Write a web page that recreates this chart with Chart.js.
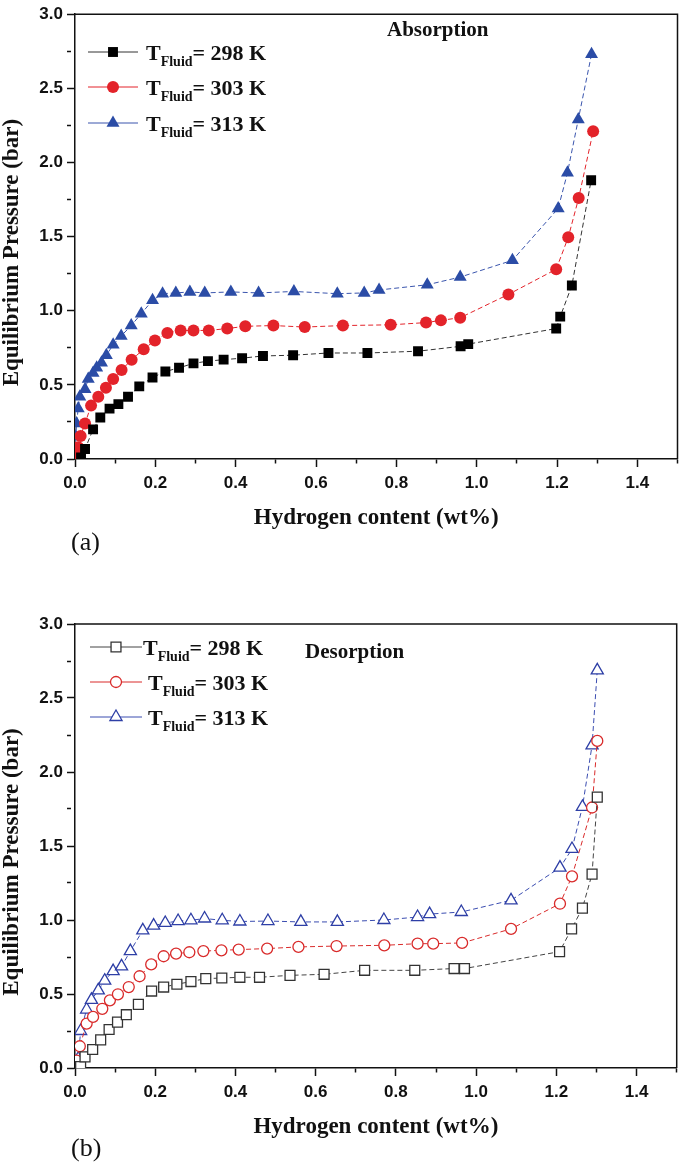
<!DOCTYPE html>
<html>
<head>
<meta charset="utf-8">
<script src="https://cdn.jsdelivr.net/npm/chart.js@4.4.1/dist/chart.umd.min.js"></script>
<style>
  html, body { margin: 0; padding: 0; background: #fff; }
  #wrap { position: relative; width: 685px; height: 1166px; overflow: hidden; }
  .box { position: absolute; left: 0; width: 685px; }
  .tag { position: absolute; font-family: "Liberation Serif", serif; font-size: 26px; color: #111; }
</style>
</head>
<body>
<div id="wrap">
  <div class="box" style="top:0;height:580px"><canvas id="chartAbs" width="685" height="580"></canvas></div>
  <div class="box" style="top:590px;height:576px"><canvas id="chartDes" width="685" height="576"></canvas></div>
  <div class="tag" style="left:71px;top:527px">(a)</div>
  <div class="tag" style="left:71px;top:1133px">(b)</div>
</div>
<script>
// --- data (x = wt%, y = bar) ---
const seriesLabels = ["298 K", "303 K", "313 K"];

const abs298X = [0.015,0.025,0.045,0.063,0.086,0.108,0.132,0.16,0.193,0.225,0.259,0.295,0.331,0.37,0.416,0.468,0.543,0.631,0.728,0.854,0.96,0.979,1.198,1.208,1.237,1.285];
const abs298Y = [0.01,0.067,0.2,0.28,0.34,0.37,0.42,0.49,0.55,0.59,0.615,0.645,0.66,0.67,0.68,0.695,0.70,0.715,0.715,0.727,0.76,0.775,0.88,0.96,1.17,1.88];

const abs303X = [0.004,0.008,0.014,0.025,0.04,0.058,0.077,0.095,0.116,0.141,0.171,0.199,0.23,0.263,0.295,0.333,0.379,0.424,0.494,0.572,0.667,0.786,0.874,0.911,0.959,1.079,1.198,1.228,1.254,1.29];
const abs303Y = [0.02,0.08,0.155,0.24,0.36,0.42,0.48,0.54,0.60,0.67,0.74,0.80,0.85,0.867,0.867,0.867,0.88,0.895,0.90,0.89,0.90,0.905,0.92,0.935,0.953,1.11,1.28,1.495,1.76,2.21];

const abs313X = [0.0,0.002,0.004,0.008,0.012,0.025,0.033,0.045,0.054,0.066,0.078,0.095,0.115,0.14,0.165,0.193,0.218,0.251,0.286,0.323,0.388,0.457,0.545,0.653,0.72,0.757,0.877,0.959,1.089,1.203,1.226,1.253,1.286];
const abs313Y = [0.03,0.15,0.24,0.34,0.42,0.47,0.54,0.58,0.615,0.65,0.70,0.77,0.83,0.90,0.98,1.07,1.115,1.12,1.127,1.12,1.127,1.12,1.13,1.115,1.12,1.14,1.175,1.227,1.34,1.69,1.93,2.29,2.73];

const des298X = [0.014,0.025,0.044,0.064,0.085,0.106,0.128,0.158,0.191,0.221,0.254,0.289,0.326,0.366,0.411,0.46,0.536,0.621,0.722,0.847,0.945,0.971,1.208,1.238,1.265,1.289,1.302];
const des298Y = [0.01,0.075,0.125,0.19,0.26,0.31,0.36,0.43,0.52,0.547,0.566,0.584,0.604,0.608,0.613,0.613,0.626,0.633,0.66,0.66,0.672,0.672,0.786,0.94,1.08,1.31,1.83];

const des303X = [0.004,0.012,0.029,0.045,0.068,0.087,0.107,0.134,0.161,0.19,0.221,0.252,0.285,0.32,0.365,0.408,0.479,0.557,0.652,0.771,0.854,0.893,0.965,1.087,1.209,1.239,1.289,1.302];
const des303Y = [0.05,0.147,0.30,0.345,0.40,0.457,0.498,0.547,0.62,0.70,0.755,0.773,0.782,0.79,0.795,0.80,0.807,0.818,0.824,0.829,0.84,0.84,0.845,0.94,1.11,1.295,1.76,2.21];

const des313X = [0.003,0.008,0.014,0.029,0.041,0.058,0.074,0.095,0.116,0.138,0.169,0.196,0.225,0.257,0.289,0.323,0.367,0.411,0.481,0.563,0.654,0.77,0.854,0.884,0.963,1.087,1.209,1.239,1.265,1.289,1.302];
const des313Y = [0.02,0.063,0.25,0.395,0.46,0.525,0.59,0.655,0.687,0.79,0.93,0.962,0.98,0.993,0.998,1.01,0.998,0.99,0.993,0.987,0.987,1.0,1.02,1.04,1.054,1.133,1.354,1.48,1.764,2.18,2.687];

const xMin = 0, xMax = 1.5, xStep = 0.1;
const yMin = 0, yMax = 3.0, yStep = 0.25;

const TICK_FONT = "'Liberation Sans', Arial, sans-serif";
const SERIF = "'Liberation Serif', 'Times New Roman', serif";

function pts(xs, ys) {
  return xs.map((x, i) => ({ x, y: ys[i] }));
}

const isMajorX = v => Math.round(v * 10) % 2 === 0;
const isMajorY = v => Math.round(v * 4) % 2 === 0;

function series(label, xs, ys, color, lineColor, style, radius, filled) {
  return {
    label,
    data: pts(xs, ys),
    showLine: true,
    borderColor: lineColor,
    borderWidth: 1,
    borderDash: [5, 3],
    pointStyle: style,
    pointRadius: radius,
    pointHoverRadius: radius,
    pointBackgroundColor: filled ? color : "#fff",
    pointBorderColor: color,
    pointBorderWidth: filled ? 0 : 1.3
  };
}

// frame, y title, in-plot legend and note
const paperDecor = {
  id: "paperDecor",
  afterDraw(chart, args, o) {
    const { ctx, chartArea: a } = chart;
    ctx.save();
    ctx.strokeStyle = "#111";
    ctx.lineWidth = 1.5;
    ctx.beginPath();
    ctx.moveTo(a.left, a.top);
    ctx.lineTo(a.right, a.top);
    ctx.lineTo(a.right, a.bottom);
    ctx.stroke();

    // y axis title (sits a little below the plot centre in the original)
    ctx.save();
    ctx.translate(12, (a.top + a.bottom) / 2 + 16);
    ctx.rotate(-Math.PI / 2);
    ctx.fillStyle = "#111";
    ctx.font = "bold 23px " + SERIF;
    ctx.textAlign = "center";
    ctx.textBaseline = "middle";
    ctx.fillText("Equilibrium Pressure (bar)", 0, 0);
    ctx.restore();

    chart.data.datasets.forEach((ds, i) => {
      const y = o.rows[i];
      ctx.setLineDash([]);
      ctx.strokeStyle = ds.borderColor;
      ctx.lineWidth = 1;
      ctx.beginPath();
      ctx.moveTo(o.x1, y);
      ctx.lineTo(o.x2, y);
      ctx.stroke();
      ctx.fillStyle = ds.pointBackgroundColor;
      ctx.strokeStyle = ds.pointBorderColor;
      ctx.lineWidth = ds.pointBorderWidth;
      Chart.helpers.drawPoint(ctx, {
        pointStyle: ds.pointStyle, radius: ds.pointRadius,
        rotation: 0, borderWidth: ds.pointBorderWidth
      }, (o.x1 + o.x2) / 2, y);

      let tx = o.textX[i];
      ctx.fillStyle = "#111";
      ctx.textBaseline = "alphabetic";
      ctx.textAlign = "left";
      ctx.font = "bold 22px " + SERIF;
      ctx.fillText("T", tx, y + 8);
      tx += ctx.measureText("T").width;
      ctx.font = "bold 14px " + SERIF;
      ctx.fillText("Fluid", tx, y + 14);
      tx += ctx.measureText("Fluid").width;
      ctx.font = "bold 22px " + SERIF;
      ctx.fillText("= " + seriesLabels[i], tx, y + 8);
    });

    ctx.font = "bold 21px " + SERIF;
    ctx.textBaseline = "middle";
    ctx.fillText(o.note, o.noteX, o.noteY);
    ctx.restore();
  }
};

function makeChart(id, datasets, pad, decor) {
  return new Chart(document.getElementById(id), {
    type: "scatter",
    data: { datasets },
    options: {
      responsive: false,
      animation: false,
      layout: { padding: pad },
      plugins: {
        legend: { display: false },
        tooltip: { enabled: false },
        paperDecor: decor
      },
      scales: {
        x: {
          type: "linear",
          min: xMin, max: xMax,
          afterFit: s => { s.height = 80; },
          border: { display: true, color: "#111", width: 1.5 },
          grid: {
            drawOnChartArea: false, drawTicks: true, tickLength: 8,
            tickColor: "#111", tickWidth: 1.5,
            tickBorderDash: c => isMajorX(c.tick.value) ? [] : [4, 40]
          },
          ticks: {
            stepSize: xStep, autoSkip: false, maxRotation: 0, padding: 6,
            color: "#111",
            font: { family: TICK_FONT, size: 17, weight: "bold" },
            callback: v => isMajorX(v) ? v.toFixed(1) : ""
          },
          title: {
            display: true, text: "Hydrogen content (wt%)", color: "#111",
            font: { family: SERIF, size: 23, weight: "bold" },
            padding: { top: 0, bottom: 7 }
          }
        },
        y: {
          type: "linear",
          min: yMin, max: yMax,
          afterFit: s => { s.width = 75; },
          border: { display: true, color: "#111", width: 1.5 },
          grid: {
            drawOnChartArea: false, drawTicks: true, tickLength: 8,
            tickColor: "#111", tickWidth: 1.5,
            tickBorderDash: c => isMajorY(c.tick.value) ? [] : [4, 40]
          },
          ticks: {
            stepSize: yStep, autoSkip: false, padding: 4,
            color: "#111",
            font: { family: TICK_FONT, size: 17, weight: "bold" },
            callback: v => isMajorY(v) ? v.toFixed(1) : ""
          },
          title: { display: false }
        }
      }
    },
    plugins: [paperDecor]
  });
}

makeChart("chartAbs", [
  series(seriesLabels[0], abs298X, abs298Y, "#000000", "#333333", "rect", 7, true),
  series(seriesLabels[1], abs303X, abs303Y, "#e3232a", "#e3232a", "circle", 6, true),
  series(seriesLabels[2], abs313X, abs313Y, "#2b4ca6", "#3a55ad", "triangle", 7.5, true)
], { top: 10, right: 3, left: 0, bottom: 41 }, {
  rows: [52, 87, 123], x1: 88, x2: 138, textX: [146, 146, 146],
  note: "Absorption", noteX: 387, noteY: 31
});

makeChart("chartDes", [
  series(seriesLabels[0], des298X, des298Y, "#333333", "#444444", "rect", 7, false),
  series(seriesLabels[1], des303X, des303Y, "#d92b2b", "#d92b2b", "circle", 5.5, false),
  series(seriesLabels[2], des313X, des313Y, "#2e3fa6", "#3a4cb0", "triangle", 7, false)
], { top: 34, right: 3, left: 0, bottom: 18 }, {
  rows: [57, 92, 127], x1: 90, x2: 142, textX: [143, 148, 148],
  note: "Desorption", noteX: 305, noteY: 63
});
</script>
</body>
</html>
